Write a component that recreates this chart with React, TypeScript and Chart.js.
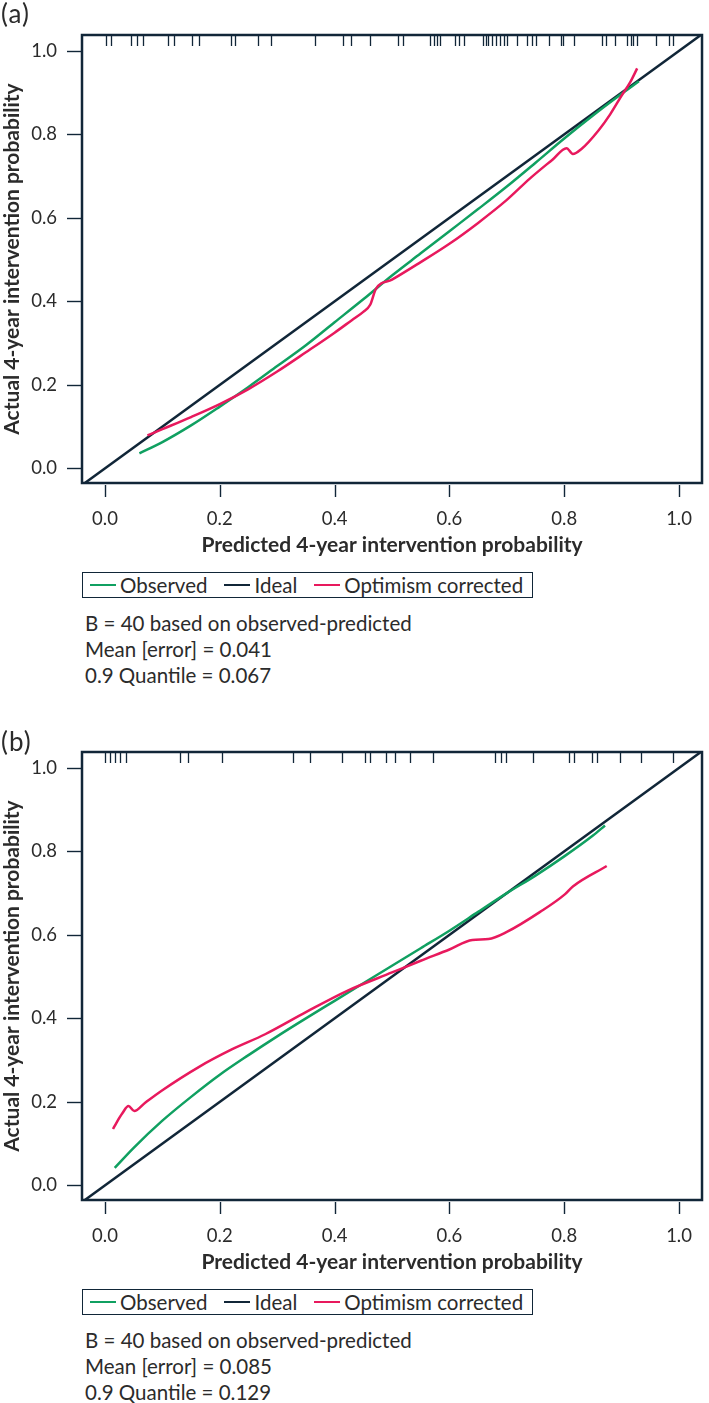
import React, { useEffect, useRef } from 'react';
import { Chart, registerables } from 'chart.js';

Chart.register(...registerables);

const FONT = 'Lato, "Noto Sans", sans-serif';
const NAVY = '#112638';
const GREEN = '#10a061';
const PINK = '#e8195d';
const TEXT = '#2b2b2b';

const X_TICKS = [0, 0.2, 0.4, 0.6, 0.8, 1.0];
const Y_TICKS = [0, 0.2, 0.4, 0.6, 0.8, 1.0];
const X_LIMITS = [-0.04, 1.04];
const Y_LIMITS = [-0.035, 1.038];
const IDEAL = [-0.04, 1.04];

const X_TITLE = 'Predicted 4-year intervention probability';
const Y_TITLE = 'Actual 4-year intervention probability';
const LEGEND_LABELS = ['Observed', 'Ideal', 'Optimism corrected'];

// Panel (a)
const A_OBS_X = [0.06, 0.1, 0.15, 0.2, 0.25, 0.3, 0.35, 0.4, 0.45, 0.5, 0.55, 0.6, 0.65, 0.7, 0.75, 0.8, 0.85, 0.9, 0.93];
const A_OBS_Y = [0.036, 0.063, 0.103, 0.148, 0.195, 0.245, 0.295, 0.35, 0.405, 0.462, 0.515, 0.568, 0.621, 0.675, 0.732, 0.79, 0.845, 0.897, 0.927];
const A_OPT_X = [0.074, 0.1, 0.15, 0.2, 0.25, 0.3, 0.35, 0.4, 0.43, 0.45, 0.462, 0.472, 0.5, 0.55, 0.6, 0.65, 0.7, 0.74, 0.78, 0.804, 0.815, 0.83, 0.86, 0.88, 0.9, 0.915, 0.927];
const A_OPT_Y = [0.079, 0.094, 0.123, 0.154, 0.19, 0.232, 0.278, 0.325, 0.355, 0.375, 0.392, 0.43, 0.452, 0.494, 0.538, 0.588, 0.643, 0.694, 0.74, 0.767, 0.753, 0.765, 0.81, 0.848, 0.893, 0.925, 0.958];
const A_RUG = [0.001, 0.011, 0.046, 0.056, 0.066, 0.109, 0.12, 0.152, 0.163, 0.219, 0.227, 0.266, 0.29, 0.366, 0.414, 0.428, 0.461, 0.51, 0.52, 0.566, 0.573, 0.578, 0.584, 0.609, 0.617, 0.625, 0.659, 0.663, 0.668, 0.674, 0.682, 0.688, 0.695, 0.701, 0.717, 0.736, 0.743, 0.751, 0.773, 0.795, 0.797, 0.817, 0.865, 0.873, 0.889, 0.91, 0.916, 0.92, 0.926, 0.959, 0.982, 0.99];
const A_NOTES = ['B = 40 based on observed-predicted', 'Mean [error] = 0.041', '0.9 Quantile = 0.067'];

// Panel (b)
const B_OBS_X = [0.017, 0.05, 0.1, 0.15, 0.2, 0.25, 0.3, 0.35, 0.4, 0.45, 0.5, 0.55, 0.6, 0.65, 0.7, 0.75, 0.8, 0.85, 0.871];
const B_OBS_Y = [0.042, 0.09, 0.155, 0.212, 0.265, 0.312, 0.357, 0.4, 0.442, 0.484, 0.526, 0.568, 0.61, 0.655, 0.7, 0.742, 0.788, 0.838, 0.862];
const B_OPT_X = [0.014, 0.02, 0.03, 0.041, 0.051, 0.07, 0.1, 0.164, 0.22, 0.279, 0.35, 0.422, 0.5, 0.55, 0.6, 0.64, 0.668, 0.7, 0.758, 0.801, 0.815, 0.874];
const B_OPT_Y = [0.135, 0.15, 0.172, 0.19, 0.178, 0.198, 0.228, 0.284, 0.325, 0.362, 0.415, 0.466, 0.51, 0.538, 0.565, 0.588, 0.59, 0.607, 0.655, 0.697, 0.716, 0.765];
const B_RUG = [0.0, 0.009, 0.018, 0.027, 0.036, 0.13, 0.144, 0.204, 0.328, 0.357, 0.413, 0.453, 0.461, 0.49, 0.506, 0.532, 0.571, 0.68, 0.69, 0.699, 0.745, 0.809, 0.817, 0.848, 0.857, 0.898, 0.934, 0.989];
const B_NOTES = ['B = 40 based on observed-predicted', 'Mean [error] = 0.085', '0.9 Quantile = 0.129'];

const pts = (xs: number[], ys: number[]) => xs.map((x, i) => ({ x, y: ys[i] }));

const framePlugin = {
  id: 'frame',
  afterDatasetsDraw(chart: any, _args: any, opts: any) {
    const { ctx, chartArea: a, scales } = chart;
    ctx.save();
    ctx.strokeStyle = NAVY;
    ctx.lineWidth = 1.3;
    (opts.rug || []).forEach((v: number) => {
      const x = Math.round(scales.x.getPixelForValue(v)) + 0.5;
      ctx.beginPath();
      ctx.moveTo(x, a.top);
      ctx.lineTo(x, a.top + 11);
      ctx.stroke();
    });
    ctx.lineWidth = 1.4;
    X_TICKS.forEach((v) => {
      const x = Math.round(scales.x.getPixelForValue(v)) + 0.5;
      ctx.beginPath();
      ctx.moveTo(x, a.bottom + 2);
      ctx.lineTo(x, a.bottom + 14);
      ctx.stroke();
    });
    Y_TICKS.forEach((v) => {
      const y = Math.round(scales.y.getPixelForValue(v)) + 0.5;
      ctx.beginPath();
      ctx.moveTo(a.left - 15, y);
      ctx.lineTo(a.left, y);
      ctx.stroke();
    });
    ctx.lineWidth = 2.5;
    ctx.strokeRect(a.left, a.top, a.right - a.left, a.bottom - a.top);
    ctx.restore();
  },
};

function Panel({ top, label, labelTop, obsX, obsY, optX, optY, rug, notes }: any) {
  const ref = useRef<HTMLCanvasElement>(null);
  useEffect(() => {
    const chart = new Chart(ref.current!, {
      type: 'line',
      data: {
        datasets: [
          { label: 'Optimism corrected', data: pts(optX, optY), borderColor: PINK, borderWidth: 2.5, pointRadius: 0, cubicInterpolationMode: 'monotone', order: 0 },
          { label: 'Observed', data: pts(obsX, obsY), borderColor: GREEN, borderWidth: 2.5, pointRadius: 0, cubicInterpolationMode: 'monotone', order: 1 },
          { label: 'Ideal', data: pts(IDEAL, IDEAL), borderColor: NAVY, borderWidth: 2.5, pointRadius: 0, order: 2 },
        ],
      },
      options: {
        animation: false,
        responsive: false,
        layout: { padding: { top: 35, left: 0, right: 1, bottom: 0 } },
        plugins: { legend: { display: false }, tooltip: { enabled: false }, frame: { rug } } as any,
        scales: {
          x: {
            type: 'linear',
            min: X_LIMITS[0],
            max: X_LIMITS[1],
            afterBuildTicks: (s: any) => { s.ticks = X_TICKS.map((value) => ({ value })); },
            afterFit: (s: any) => { s.height = 80; },
            ticks: { callback: (v: any) => Number(v).toFixed(1), font: { family: FONT, size: 18.5 }, color: TEXT, padding: 17, maxRotation: 0, autoSkip: false },
            grid: { display: false },
            border: { display: false },
            title: { display: true, text: X_TITLE, font: { family: FONT, size: 21, weight: 'bold' }, color: TEXT, padding: { top: 0, bottom: 5 } },
          },
          y: {
            type: 'linear',
            min: Y_LIMITS[0],
            max: Y_LIMITS[1],
            afterBuildTicks: (s: any) => { s.ticks = Y_TICKS.map((value) => ({ value })); },
            afterFit: (s: any) => { s.width = 82; },
            ticks: { callback: (v: any) => Number(v).toFixed(1), font: { family: FONT, size: 18.5 }, color: TEXT, padding: 17 },
            grid: { display: false },
            border: { display: false },
            title: { display: true, text: Y_TITLE, font: { family: FONT, size: 21, weight: 'bold' }, color: TEXT, padding: { top: 0, bottom: 0 } },
          },
        },
      } as any,
      plugins: [framePlugin],
    });
    return () => chart.destroy();
  }, []);

  const colors = [GREEN, NAVY, PINK];
  return (
    <div style={{ position: 'absolute', left: 0, top, width: 709, height: 690 }}>
      <canvas ref={ref} width={709} height={563} style={{ position: 'absolute', left: 0, top: 0, width: 709, height: 563 }} />
      <div style={{ position: 'absolute', left: 1, top: labelTop, fontFamily: FONT, fontSize: 26, lineHeight: 1, color: TEXT, letterSpacing: 1 }}>{label}</div>
      <div style={{ position: 'absolute', left: 82, top: 572, width: 449, height: 24, border: `1.5px solid ${NAVY}`, display: 'flex', alignItems: 'center', fontFamily: FONT, fontSize: 20.5, color: TEXT, whiteSpace: 'nowrap' }}>
        {LEGEND_LABELS.map((t, i) => (
          <div key={t} style={{ display: 'flex', alignItems: 'center', marginLeft: i === 0 ? 7 : 17 }}>
            <span style={{ display: 'inline-block', width: 26, height: 0, borderTop: `2.5px solid ${colors[i]}`, marginRight: 4 }} />
            <span>{t}</span>
          </div>
        ))}
      </div>
      <div style={{ position: 'absolute', left: 85, top: 610, fontFamily: FONT, fontSize: 20.5, color: TEXT, lineHeight: '26px', whiteSpace: 'nowrap' }}>
        {notes.map((n: string) => <div key={n}>{n}</div>)}
      </div>
    </div>
  );
}

export default function App() {
  return (
    <div style={{ position: 'absolute', left: 0, top: 0, width: 709, height: 1403, background: '#fff', overflow: 'hidden' }}>
      <Panel top={0} labelTop={0} label="(a)" obsX={A_OBS_X} obsY={A_OBS_Y} optX={A_OPT_X} optY={A_OPT_Y} rug={A_RUG} notes={A_NOTES} />
      <Panel top={717} labelTop={11} label="(b)" obsX={B_OBS_X} obsY={B_OBS_Y} optX={B_OPT_X} optY={B_OPT_Y} rug={B_RUG} notes={B_NOTES} />
    </div>
  );
}
